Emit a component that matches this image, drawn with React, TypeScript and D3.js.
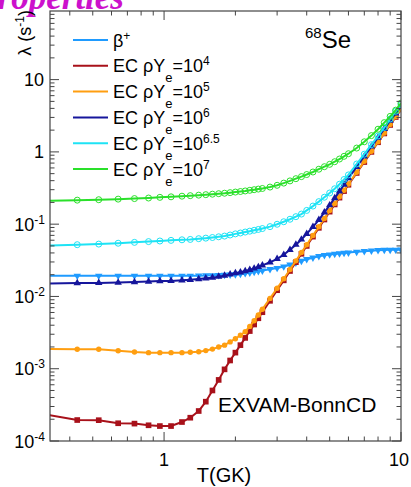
import React from "react";
import * as d3 from "d3";

// Temperature grid (GK)
const temperatures = [
  0.3, 0.43, 0.53, 0.64, 0.75, 0.86, 0.96, 1.07, 1.19, 1.29, 1.4, 1.5, 1.6, 1.7, 1.8, 1.9,
  2.0, 2.1, 2.2, 2.3, 2.4, 2.5, 2.6, 2.8, 3.0, 3.2, 3.4, 3.6, 3.8, 4.0, 4.25, 4.5, 4.75,
  5.0, 5.25, 5.5, 5.75, 6.0, 6.5, 7.0, 7.5, 8.0, 8.5, 9.0, 9.5, 10,
];

// Rates lambda (1/s)
const betaPlus = [
  0.0193, 0.0193, 0.0193, 0.0193, 0.0193, 0.0193, 0.0193, 0.0193, 0.0193, 0.0193, 0.0194, 0.0195,
  0.0196, 0.0197, 0.0198, 0.02, 0.0202, 0.0205, 0.0209, 0.0213, 0.0218, 0.0223, 0.0228, 0.0238,
  0.0247, 0.0259, 0.0275, 0.0293, 0.0311, 0.0327, 0.0344, 0.036, 0.0372, 0.038, 0.0387, 0.0393,
  0.0399, 0.0404, 0.0414, 0.0423, 0.043, 0.0436, 0.0439, 0.0441, 0.0442, 0.0443,
];
const ecRho4 = [
  2.4e-4, 1.95e-4, 1.94e-4, 1.76e-4, 1.74e-4, 1.65e-4, 1.61e-4, 1.61e-4, 1.83e-4, 2.1e-4, 2.6e-4,
  3.5e-4, 5.0e-4, 7.0e-4, 9.8e-4, 1.3e-3, 1.67e-3, 2.12e-3, 2.67e-3, 3.32e-3, 4.09e-3, 4.99e-3,
  6.05e-3, 8.7e-3, 0.0122, 0.0167, 0.0225, 0.0298, 0.0389, 0.05, 0.0672, 0.089, 0.116, 0.149,
  0.1875, 0.233, 0.287, 0.351, 0.511, 0.724, 1.0, 1.36, 1.8, 2.36, 3.04, 3.87,
];
const ecRho5 = [
  1.88e-3, 1.86e-3, 1.86e-3, 1.77e-3, 1.7e-3, 1.67e-3, 1.67e-3, 1.67e-3, 1.67e-3, 1.69e-3, 1.72e-3,
  1.78e-3, 1.87e-3, 2.0e-3, 2.12e-3, 2.35e-3, 2.6e-3, 2.9e-3, 3.25e-3, 3.85e-3, 4.6e-3, 5.55e-3,
  6.65e-3, 9.4e-3, 0.013, 0.0176, 0.0236, 0.0311, 0.0405, 0.052, 0.0697, 0.0923, 0.12, 0.154,
  0.193, 0.24, 0.295, 0.36, 0.524, 0.74, 1.02, 1.38, 1.83, 2.4, 3.09, 3.93,
];
const ecRho6 = [
  0.015, 0.0153, 0.0154, 0.0156, 0.0158, 0.0161, 0.0163, 0.0164, 0.0167, 0.017, 0.0174, 0.0178,
  0.0182, 0.0188, 0.0194, 0.0202, 0.021, 0.0216, 0.0225, 0.0233, 0.0244, 0.0256, 0.0269, 0.0297,
  0.0332, 0.0377, 0.0442, 0.0521, 0.0615, 0.0736, 0.092, 0.115, 0.146, 0.183, 0.229, 0.284,
  0.352, 0.434, 0.62, 0.87, 1.19, 1.58, 2.08, 2.7, 3.42, 4.25,
];
const ecRho65 = [
  0.05, 0.052, 0.053, 0.0545, 0.056, 0.0574, 0.0585, 0.0597, 0.0608, 0.0615, 0.063, 0.0641,
  0.0654, 0.0669, 0.0684, 0.0708, 0.0734, 0.0755, 0.0778, 0.08, 0.0822, 0.0845, 0.087, 0.0925,
  0.0997, 0.108, 0.117, 0.127, 0.138, 0.155, 0.178, 0.205, 0.236, 0.27, 0.309, 0.357, 0.415,
  0.48, 0.68, 0.93, 1.26, 1.66, 2.18, 2.85, 3.65, 4.5,
];
const ecRho7 = [
  0.21, 0.215, 0.218, 0.222, 0.226, 0.23, 0.235, 0.239, 0.244, 0.248, 0.252, 0.256, 0.26, 0.264,
  0.268, 0.273, 0.278, 0.283, 0.288, 0.294, 0.3, 0.306, 0.312, 0.326, 0.345, 0.37, 0.397, 0.426,
  0.455, 0.486, 0.527, 0.576, 0.624, 0.673, 0.731, 0.797, 0.869, 0.944, 1.13, 1.38, 1.68, 2.06,
  2.54, 3.1, 3.78, 4.73,
];

const legendExponents = ["4", "5", "6", "6.5", "7"];
const yTickExponents = [1, 0, -1, -2, -3, -4];
const xTickValues = [1, 10];

type Marker = "triDown" | "triUp" | "square" | "circle" | "openCircle";
const series: { values: number[]; color: string; marker: Marker }[] = [
  { values: betaPlus, color: "#1f9bff", marker: "triDown" },
  { values: ecRho4, color: "#a8111a", marker: "square" },
  { values: ecRho5, color: "#ff9e10", marker: "circle" },
  { values: ecRho6, color: "#16169c", marker: "triUp" },
  { values: ecRho65, color: "#1ee3f5", marker: "openCircle" },
  { values: ecRho7, color: "#2ae02a", marker: "openCircle" },
];

const FONT = "'Liberation Sans', Arial, Helvetica, sans-serif";

export default function App() {
  const W = 411, H = 487;
  const L = 50, R = 401, TOP = 11, B = 441;
  const x = d3.scaleLog().domain([0.33, 10]).range([L, R]);
  const y = d3.scaleLog().domain([1e-4, 89]).range([B, TOP]);
  const line = d3
    .line<number>()
    .x((_, i) => x(temperatures[i]))
    .y((d) => y(d));

  const triPath = d3.symbol().type(d3.symbolTriangle).size(24)() as string;
  const sqPath = d3.symbol().type(d3.symbolSquare).size(32)() as string;

  const drawMarker = (m: Marker, cx: number, cy: number, color: string, key: string) => {
    if (m === "triDown")
      return <path key={key} d={triPath} transform={`translate(${cx},${cy}) rotate(180)`} fill={color} />;
    if (m === "triUp")
      return <path key={key} d={triPath} transform={`translate(${cx},${cy})`} fill={color} />;
    if (m === "square")
      return <path key={key} d={sqPath} transform={`translate(${cx},${cy})`} fill={color} />;
    if (m === "circle") return <circle key={key} cx={cx} cy={cy} r={2.7} fill={color} />;
    return <circle key={key} cx={cx} cy={cy} r={3} fill="none" stroke={color} strokeWidth={1} />;
  };

  // ticks
  const yTicks: { v: number; major: boolean }[] = [];
  for (let e = -4; e <= 1; e++)
    for (let k = 1; k <= 9; k++) {
      const v = k * Math.pow(10, e);
      if (v >= 1e-4 && v <= 89) yTicks.push({ v, major: k === 1 });
    }
  const xTicks: { v: number; major: boolean }[] = [];
  for (let e = -1; e <= 1; e++)
    for (let k = 1; k <= 9; k++) {
      const v = k * Math.pow(10, e);
      if (v >= 0.33 && v <= 10.0001) xTicks.push({ v, major: k === 1 });
    }

  const legendY0 = 40;
  const legendDy = 25.8;
  const tickColor = "#444";

  return (
    <svg width={W} height={H} style={{ position: "absolute", left: 0, top: 0, background: "#fff" }} fontFamily={FONT}>
      <rect x={0} y={0} width={W} height={H} fill="#fff" />
      <defs>
        <clipPath id="plotclip">
          <rect x={L} y={TOP} width={R - L} height={B - TOP} />
        </clipPath>
      </defs>

      {/* title fragment */}
      <text x={124} y={9} textAnchor="end" fontFamily="'Liberation Serif', 'Times New Roman', serif" fontWeight="bold" fontStyle="italic" fontSize={35} fill="#cc11cc">
        roperties
      </text>

      {/* curves */}
      <g clipPath="url(#plotclip)">
        {series.map((s, si) => (
          <g key={si}>
            <path d={line(s.values) as string} fill="none" stroke={s.color} strokeWidth={2} />
            {s.values.map((v, i) => drawMarker(s.marker, x(temperatures[i]), y(v), s.color, `${si}-${i}`))}
          </g>
        ))}
      </g>

      {/* frame */}
      <rect x={L} y={TOP} width={R - L} height={B - TOP} fill="none" stroke={tickColor} strokeWidth={1.2} />
      {yTicks.map((t, i) => {
        const yy = y(t.v);
        const len = t.major ? 9 : 4.5;
        return (
          <g key={`yt${i}`} stroke={tickColor} strokeWidth={1}>
            <line x1={L} x2={L + len} y1={yy} y2={yy} />
            <line x1={R} x2={R - len} y1={yy} y2={yy} />
          </g>
        );
      })}
      {xTicks.map((t, i) => {
        const xx = x(t.v);
        const len = t.major ? 9 : 4.5;
        return (
          <g key={`xt${i}`} stroke={tickColor} strokeWidth={1}>
            <line x1={xx} x2={xx} y1={B} y2={B - len} />
            <line x1={xx} x2={xx} y1={TOP} y2={TOP + len} />
          </g>
        );
      })}

      {/* y tick labels */}
      {yTickExponents.map((e) => {
        const yy = y(Math.pow(10, e)) + 6.5;
        if (e === 1)
          return (
            <text key={e} x={44} y={yy} textAnchor="end" fontSize={18}>10</text>
          );
        if (e === 0)
          return (
            <text key={e} x={44} y={yy} textAnchor="end" fontSize={18}>1</text>
          );
        return (
          <text key={e} x={45} y={yy} textAnchor="end" fontSize={18}>
            10<tspan dy={-7} fontSize={12}>{`-${-e}`}</tspan>
          </text>
        );
      })}

      {/* x tick labels */}
      {xTickValues.map((v) => (
        <text key={v} x={v === 10 ? x(v) - 2 : x(v)} y={466} textAnchor="middle" fontSize={18}>
          {v}
        </text>
      ))}
      <text x={224} y={482} textAnchor="middle" fontSize={20}>T(GK)</text>

      {/* y title */}
      <text transform={`translate(31,10) rotate(-90)`} textAnchor="end" fontSize={18}>
        λ (s<tspan dy={-7} fontSize={12}>-1</tspan><tspan dy={7}>)</tspan>
      </text>

      {/* legend */}
      <g>
        <line x1={73} x2={108} y1={legendY0} y2={legendY0} stroke={series[0].color} strokeWidth={2} />
        <text x={113} y={legendY0 + 6.5} fontSize={18}>
          β<tspan dy={-7} fontSize={12}>+</tspan>
        </text>
        {legendExponents.map((ex, i) => {
          const ly = legendY0 + legendDy * (i + 1);
          return (
            <g key={ex}>
              <line x1={73} x2={108} y1={ly} y2={ly} stroke={series[i + 1].color} strokeWidth={2} />
              <text x={113} y={ly + 6.5} fontSize={18}>
                EC ρY<tspan dy={10} fontSize={13}>e</tspan>
                <tspan dy={-10}>=10</tspan>
                <tspan dy={-7} fontSize={12}>{ex}</tspan>
              </text>
            </g>
          );
        })}
      </g>

      {/* nucleus label */}
      <text x={305} y={48} fontSize={24}>
        <tspan fontSize={15} dy={-10}>68</tspan>
        <tspan dy={10}>Se</tspan>
      </text>

      <text x={218} y={412} fontSize={21}>EXVAM-BonnCD</text>
    </svg>
  );
}
